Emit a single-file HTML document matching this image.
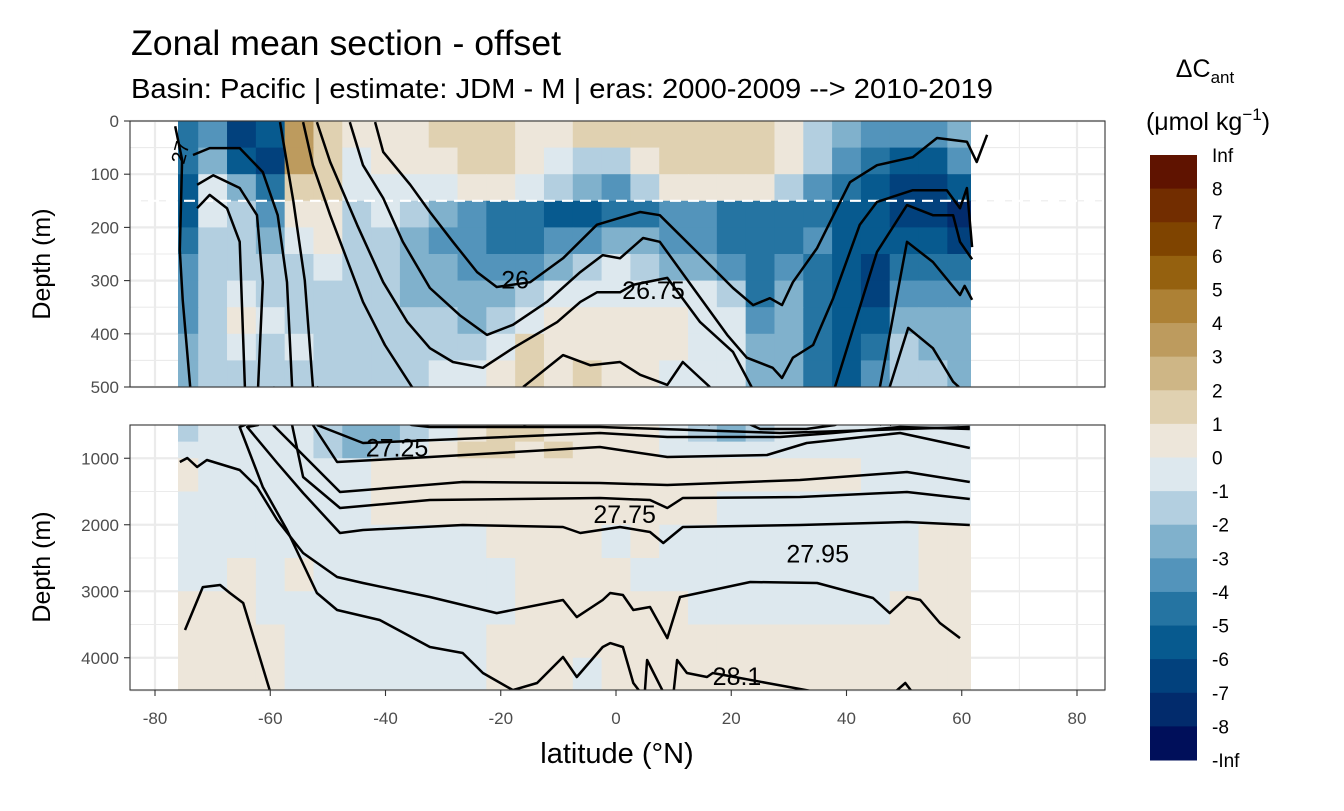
<!DOCTYPE html>
<html><head><meta charset="utf-8">
<style>
body{margin:0;background:#fff;}
svg text{font-family:"Liberation Sans",sans-serif;}
</style></head><body>
<svg id="chart" width="1344" height="806" viewBox="0 0 1344 806" xmlns="http://www.w3.org/2000/svg">
<defs>
<clipPath id="clipTop"><rect x="130" y="121" width="975" height="266"/></clipPath>
<clipPath id="clipBot"><rect x="130" y="425" width="975" height="265"/></clipPath>
<clipPath id="dataTop"><rect x="178" y="121" width="793" height="266"/></clipPath>
<clipPath id="dataBot"><rect x="178" y="425" width="793" height="265"/></clipPath>
</defs>
<text x="131" y="55" font-size="35" fill="#000" textLength="430" lengthAdjust="spacingAndGlyphs">Zonal mean section - offset</text>
<text x="131" y="98" font-size="28" fill="#000" textLength="862" lengthAdjust="spacingAndGlyphs">Basin: Pacific | estimate: JDM - M | eras: 2000-2009 --&gt; 2010-2019</text>
<g id="panels"></g>
<g id="legend"></g>
<text x="617" y="763" font-size="29" text-anchor="middle" fill="#000">latitude (°N)</text>
<text transform="translate(50,264) rotate(-90)" font-size="25" text-anchor="middle" fill="#000">Depth (m)</text>
<text transform="translate(50,567) rotate(-90)" font-size="25" text-anchor="middle" fill="#000">Depth (m)</text>
</svg>
<script>
// ---------- data ----------
const lats = [-75,-70,-65,-60,-55,-50,-45,-40,-35,-30,-25,-20,-15,-10,-5,0,5,10,15,20,25,30,35,40,45,50,55,60];
const depthEdges = [0,50,100,150,200,250,300,350,400,450,500,750,1000,1500,2000,2500,3000,3500,4000,4500];
const r0 = [-5,-4,-7,-6,3,1,0.5,0.5,0.5,1.5,1.5,1.5,0.5,0.5,1.5,1.5,1.5,1.5,1.5,1.5,1.5,0.5,-1.5,-3,-3.5,-4,-4,-2.5];
const r1 = [-5,-3,-6,-7,3.5,1.5,-0.5,0.5,0.5,0.5,1.5,1.5,0.5,-0.5,-1.5,-1.5,0.5,1.5,1.5,1.5,1.5,0.5,-2,-3.5,-5,-6,-6,-4];
const r2 = [-6,-1,-3,-5,1.5,1.5,-0.5,-0.5,-0.5,-0.5,0.5,0.5,-0.5,-1.5,-3,-4,-1.5,0.5,0.5,0.5,0.5,-1.5,-3.5,-5,-6,-7,-7,-6];
const r3 = [-6,-1,-2,-4,0.5,0.5,-1.5,-0.5,-1.5,-3,-4,-5,-5,-6,-6,-5,-5,-4,-4,-5,-5,-5,-5,-6,-6,-7,-7,-8];
const r4 = [-5,-1.5,-1.5,-3,-0.5,0.5,-1.5,-1.5,-2.5,-3.5,-4,-4.5,-5,-4,-3.5,-3,-3,-4,-4,-5,-5,-5,-4,-6,-6,-6,-6,-7];
const r5 = [-4,-1.5,-1.5,-2,-1.5,-0.5,-1.5,-2,-3,-3,-3.5,-4,-4,-2.5,-1.5,-1,-1.5,-2.5,-3,-4,-5,-4,-5,-6,-7,-5,-5,-5];
const r6 = [-4,-2,-0.5,-1.5,-1.5,-1.5,-1.5,-2,-2.5,-2.5,-3,-3,-2,-1,-0.5,-0.5,-0.5,-0.5,-1,-2,-5,-3,-5,-6,-7,-4,-4,-4];
const r7 = [-4,-1.5,0.5,-0.5,-1.5,-1.5,-1.5,-1.5,-2,-2,-2.5,-2,-1,0.5,0.5,0.5,0.5,0.5,-0.5,-1,-4,-3,-5,-6,-6,-3,-3,-3];
const r8 = [-3,-1.5,-0.5,-1.5,-0.5,-1.5,-1.5,-1.5,-1.5,-1.5,-2,-0.5,1.5,0.5,0.5,0.5,0.5,0.5,-0.5,-0.5,-3,-3,-5,-6,-5,-2,-2.5,-3];
const r9 = [-3,-1.5,-1.5,-1.5,-1.5,-1.5,-1.5,-1.5,-1.5,-0.5,-0.5,0.5,1.5,0.5,1.5,0.5,0.5,-0.5,-0.5,-0.5,-3,-3,-5,-6,-4,-1.5,-2,-3];
const r10 = [-1.5,-0.5,-0.5,-0.5,-0.5,-2,-3,-2.5,-1.5,-0.5,0.5,1.5,1.5,0.5,0.5,0.5,0.5,-0.5,-2,-3,-1.5,-0.5,-0.5,-0.5,-0.5,-0.5,-0.5,-0.5];
const r11 = [-0.5,-0.5,-0.5,-0.5,-0.5,-1.5,-3,-1.5,-0.5,0.5,1.5,1.5,0.5,1.5,0.5,0.5,0.5,-0.5,-0.5,-0.5,-0.5,-0.5,-0.5,-0.5,-0.5,-0.5,-0.5,-0.5];
const r12 = [0.5,-0.5,-0.5,-0.5,-0.5,-0.5,-0.5,0.5,0.5,0.5,0.5,0.5,0.5,0.5,0.5,0.5,0.5,0.5,0.5,0.5,0.5,0.5,0.5,0.5,-0.5,-0.5,-0.5,-0.5];
const r13 = [-0.5,-0.5,-0.5,-0.5,-0.5,-0.5,-0.5,0.5,0.5,0.5,0.5,0.5,0.5,0.5,0.5,0.5,0.5,0.5,0.5,-0.5,-0.5,-0.5,-0.5,-0.5,-0.5,-0.5,-0.5,-0.5];
const r14 = [-0.5,-0.5,-0.5,-0.5,-0.5,-0.5,-0.5,-0.5,-0.5,-0.5,-0.5,0.5,0.5,0.5,0.5,-0.5,0.5,-0.5,-0.5,-0.5,-0.5,-0.5,-0.5,-0.5,-0.5,-0.5,0.5,0.5];
const r15 = [-0.5,-0.5,0.5,-0.5,0.5,-0.5,-0.5,-0.5,-0.5,-0.5,-0.5,-0.5,0.5,0.5,0.5,0.5,-0.5,-0.5,-0.5,-0.5,-0.5,-0.5,-0.5,-0.5,-0.5,-0.5,0.5,0.5];
const r16 = [0.5,0.5,0.5,-0.5,-0.5,-0.5,-0.5,-0.5,-0.5,-0.5,-0.5,-0.5,0.5,0.5,0.5,0.5,0.5,0.5,-0.5,-0.5,-0.5,-0.5,-0.5,-0.5,-0.5,0.5,0.5,0.5];
const r17 = [0.5,0.5,0.5,0.5,-0.5,-0.5,-0.5,-0.5,-0.5,-0.5,-0.5,0.5,0.5,0.5,0.5,0.5,0.5,0.5,0.5,0.5,0.5,0.5,0.5,0.5,0.5,0.5,0.5,0.5];
const r18 = [0.5,0.5,0.5,0.5,-0.5,-0.5,-0.5,-0.5,-0.5,-0.5,-0.5,0.5,0.5,0.5,-0.5,0.5,0.5,0.5,0.5,0.5,0.5,0.5,0.5,0.5,0.5,0.5,0.5,0.5];
const gridRows = [r0,r1,r2,r3,r4,r5,r6,r7,r8,r9,r10,r11,r12,r13,r14,r15,r16,r17,r18];

const legendLabels = ["Inf","8","7","6","5","4","3","2","1","0","-1","-2","-3","-4","-5","-6","-7","-8","-Inf"];
const binColors = ["#5f1300","#722d00","#7f4400","#95610f","#ad8135","#bd9b5e","#ceb686","#e0d1b1","#ede6da","#dde8ee","#b3cfe0","#80b1cc","#5394bb","#2574a2","#075a8f","#02417d","#022b6c","#000f5a"];

const xTicks = [-80,-60,-40,-20,0,20,40,60,80];
const topTicks = [0,100,200,300,400,500];
const botTicks = [1000,2000,3000,4000];

// contour lines: lat array + depth array
const cHumpC_lat = [-72.7,-70.5,-67.5,-65.3,-64.4,-65.3,-61.3,-57.1,-51.9,-48.4,-41.0,-32.3,-26.6,-23.1,-17.9,-13.7,-9.2,-6.8,-2.3,-1.0,1.2,3.0,4.2];
const cHumpC_dep = [164,139,164,227,500,530,1432,2079,3027,3282,3433,3839,3929,4230,4486,4380,3989,4290,3839,3779,3839,4380,4516];
const cHumpB_lat = [-72.7,-69.9,-65.3,-62.3,-61.3,-62.1,-64.0,-58.8,-54.3,-47.9,-43.9,-26.6,-9.2,-6.2,0.7,5.9,8.2,11.6,31.9,50.5,61.4];
const cHumpB_dep = [120,102,126,177,303,500,530,1071,1523,2124,2079,2004,2034,2124,2034,2109,2275,2034,2004,1959,2004];
const cHumpA_lat = [-73.4,-70.5,-65.3,-61.3,-58.7,-57.1,-56.2,-54.3,-47.9,-32.3,-2.8,5.9,8.9,11.6,31.9,50.5,61.4];
const cHumpA_dep = [64,51,51,96,177,303,500,1282,1748,1628,1598,1628,1748,1598,1583,1508,1613];
const cV_lat = [-58.3,-56,-54,-52.6,-48.4,-32.3,-2.8,8.9,26.2,33.1,49.3,61.4];
const cV_dep = [2,150,300,500,1056,981,831,981,951,771,620,846];
const cS_lat = [-54.3,-52.6,-49.6,-43.9,-40.1,-35.4,-32.3,-2.8,28.5,61.4];
const cS_dep = [2,83,177,340,421,500,530,530,620,530];
const cH1_lat = [-76.5,-75.3,-75.7,-75.2,-73.9];
const cH1_dep = [10,73,243,336,500];
const cA_lat = [-41.8,-40.4,-35.7,-32.3,-28.3,-24.1,-20.7,-14.9,-9.2,-3.3,0.7,4.2,7.6,14.6,20.3,23.8,26.7,28.8,30.7,34.9,40.6,45.3,51.5,55.7,60.9,62.6,64.4];
const cA_dep = [2,58,120,171,227,284,312,303,258,195,182,171,177,252,314,346,333,346,303,239,115,83,68,32,39,77,26];
const cB_lat = [-46.2,-43.9,-40.4,-37.0,-32.3,-27.1,-22.4,-17.9,-12.0,-6.2,-2.3,0.7,4.7,7.6,13.4,19.3,22.7,27.2,28.8,30.7,34.2,37.7,42.3,45.3,51.5,57.4,59.7,60.9,61.8];
const cB_dep = [2,83,145,227,314,365,402,383,340,284,252,258,220,227,314,402,445,464,483,445,421,333,195,152,130,130,164,126,237];
const cC_lat = [-51.9,-49.6,-44.9,-40.4,-36.2,-32.3,-28.3,-23.1,-17.9,-10.2,-6.2,-3.3,0.7,2.9,8.9,14.6,20.3,25,33,38,45.3,50.5,55,58.5,59.7,61.8];
const cC_dep = [2,77,196,303,378,427,453,464,427,378,340,322,322,308,295,378,434,560,560,500,246,158,177,177,227,260];
const cD_lat = [-16.1,-9.2,-4.5,0.7,4.2,8.9,11.6,14.6,16.3];
const cD_dep = [500,440,459,453,477,496,453,483,500];
const cE_lat = [45.8,50.5,55,59.7,60.5,61.8];
const cE_dep = [500,227,265,327,310,336];
const cF_lat = [47.5,50.7,55,58.5,59.5];
const cF_dep = [500,389,427,490,500];
const cI_lat = [-75.7,-74.4,-72.7,-71.0,-65.3,-62.3,-58.8,-54.3,-48.4,-43.9,-32.3,-20.7,-9.2,-6.8,-2.3,-1.0,1.2,3.0,5.9,8.9,11.1,23.3,34.9,44.6,47.5,50.5,52.8,56.2,59.7];
const cI_dep = [1056,996,1132,1026,1177,1432,1929,2425,2786,2876,3087,3328,3132,3388,3132,3027,3057,3282,3237,3704,3087,2861,2876,3102,3328,3087,3132,3478,3704];
const cV5_lat = [-59.5,-47.9,-26.6,-2.8,8.9,31.9,50.5,61.4];
const cV5_dep = [500,1508,1357,1372,1402,1327,1207,1357];
const cV7_lat = [-51.9,-43.9,-2.8,8.9,28.5,37.7,49.3,61.4];
const cV7_dep = [500,771,620,680,680,620,530,560];
const cLL_lat = [-74.8,-71.7,-68.7,-67.0,-64.7,-60.0];
const cLL_dep = [3583,2937,2906,3027,3177,4516];
const cSp1_lat = [5.0,5.4,8.2];
const cSp1_dep = [4516,4034,4516];
const cSp2_lat = [10.0,10.6,12.3,15.8,16.8,26.2,34.9];
const cSp2_dep = [4516,4034,4230,4290,4230,4380,4516];
const cSp3_lat = [48.4,50.2,51.4];
const cSp3_dep = [4516,4380,4516];
const contours = [
 ["isopycnal-hump-c",cHumpC_lat,cHumpC_dep],["isopycnal-hump-b",cHumpB_lat,cHumpB_dep],
 ["isopycnal-hump-a",cHumpA_lat,cHumpA_dep],["isopycnal-v",cV_lat,cV_dep],["isopycnal-s",cS_lat,cS_dep],
 ["isopycnal-h1",cH1_lat,cH1_dep],["isopycnal-26",cA_lat,cA_dep],["isopycnal-26-25",cB_lat,cB_dep],
 ["isopycnal-26-75",cC_lat,cC_dep],["isopycnal-d",cD_lat,cD_dep],["isopycnal-e",cE_lat,cE_dep],
 ["isopycnal-f",cF_lat,cF_dep],["isopycnal-27-95-deep",cI_lat,cI_dep],["isopycnal-27-6",cV5_lat,cV5_dep],
 ["isopycnal-27-25",cV7_lat,cV7_dep],["isopycnal-lower-left",cLL_lat,cLL_dep],
 ["isopycnal-28-1-spike-a",cSp1_lat,cSp1_dep],["isopycnal-28-1",cSp2_lat,cSp2_dep],["isopycnal-28-1-spike-b",cSp3_lat,cSp3_dep]
];
const contourLabels = ["26","26.75","27.25","27.75","27.95","28.1"];
const labelLat = [-17.5,6.5,-38,1.5,35,21];
const labelDep = [300,320,850,1850,2450,4290];

// ---------- scales ----------
const NS="http://www.w3.org/2000/svg";
const xS = lat => 616 + lat*5.7625;
const yTop = d => 121 + d*0.532;
const yBot = d => 425 + (d-500)*0.0665;
const yAny = d => d<=500 ? yTop(d) : yBot(d);
function colorOf(v){let i=Math.floor(v)+9; i=Math.max(0,Math.min(17,i)); return binColors[17-i];}
function mk(tag,attrs,parent){const e=document.createElementNS(NS,tag);for(const k in attrs)e.setAttribute(k,attrs[k]);parent.appendChild(e);return e;}

const panels=document.getElementById('panels');
const gridCol="#ebebeb";
[[121,387,'top'],[425,690,'bottom']].forEach(([y0,y1,nm])=>{
  const g=mk('g',{},panels);
  
  
  mk('rect',{x:130,y:y0,width:975,height:y1-y0,fill:'#fff'},g);
  for(let lat=-90;lat<=90;lat+=10){const x=xS(lat); if(x<130||x>1105)continue; mk('line',{x1:x,x2:x,y1:y0,y2:y1,stroke:gridCol,'stroke-width':lat%20===0?2.2:1.1},g);}
  if(nm==='top'){for(let d=0;d<=500;d+=50){const y=yTop(d);mk('line',{x1:130,x2:1105,y1:y,y2:y,stroke:gridCol,'stroke-width':d%100===0?2.2:1.1},g);}}
  else{for(let d=1000;d<=4500;d+=500){const y=yBot(d);mk('line',{x1:130,x2:1105,y1:y,y2:y,stroke:gridCol,'stroke-width':d%1000===0?2.2:1.1},g);}}
});
['top','bottom'].forEach(nm=>{
  const g=mk('g',{'clip-path':nm==='top'?'url(#dataTop)':'url(#dataBot)'},panels);
  
  
  gridRows.forEach((row,ri)=>{
    const d0=depthEdges[ri], d1=depthEdges[ri+1];
    if(nm==='top' && d0>=500) return;
    if(nm==='bottom' && d1<=500) return;
    const y0=yAny(d0), y1=yAny(d1);
    row.forEach((v,ci)=>{
      const x0=xS(lats[ci]-2.5), x1=xS(lats[ci]+2.5);
      const r=mk('rect',{x:x0,y:y0,width:x1-x0+0.6,height:y1-y0+0.6,fill:colorOf(v)},g);
      
      
    });
  });
});
const dl=mk('line',{x1:130,x2:1105,y1:yTop(150),y2:yTop(150),stroke:'#fff','stroke-width':2.2,'stroke-dasharray':'11 7','clip-path':'url(#clipTop)'},panels);


['top','bottom'].forEach(nm=>{
  const g=mk('g',{'clip-path':nm==='top'?'url(#clipTop)':'url(#clipBot)',fill:'none',stroke:'#000','stroke-width':2.5,'stroke-linejoin':'round'},panels);
  contours.forEach(([name,la,de])=>{
    let dstr='';
    la.forEach((l,i)=>{const y = nm==='top' ? (de[i]<=500?yTop(de[i]):400+(de[i]-500)*0.05) : (de[i]>=500?yBot(de[i]):420-(500-de[i])*0.05); dstr+=(i?'L':'M')+xS(l).toFixed(1)+','+y.toFixed(1);});
    const p=mk('path',{d:dstr},g);
    
    
  });
});
contourLabels.forEach((t,i)=>{
  const e=mk('text',{x:xS(labelLat[i]),y:yAny(labelDep[i])+8,'font-size':25,'text-anchor':'middle',fill:'#000'},panels);
  e.textContent=t;
  
  
});
const l27=mk('text',{x:0,y:0,'font-size':20,fill:'#000',transform:'translate(184,165) rotate(-75)'},panels);
l27.textContent='27';


[[121,387],[425,690]].forEach(([y0,y1])=>{
  const b=mk('rect',{x:130,y:y0,width:975,height:y1-y0,fill:'none',stroke:'#333','stroke-width':1.1},panels);
  
  
});
topTicks.forEach(d=>{const y=yTop(d);mk('line',{x1:124,x2:130,y1:y,y2:y,stroke:'#333','stroke-width':1.1},panels);
  const t=mk('text',{x:119,y:y+6,'font-size':17,'text-anchor':'end',fill:'#4d4d4d'},panels);t.textContent=d;
  
  });
botTicks.forEach(d=>{const y=yBot(d);mk('line',{x1:124,x2:130,y1:y,y2:y,stroke:'#333','stroke-width':1.1},panels);
  const t=mk('text',{x:119,y:y+6,'font-size':17,'text-anchor':'end',fill:'#4d4d4d'},panels);t.textContent=d;
  
  });
xTicks.forEach(l=>{const x=xS(l);mk('line',{x1:x,x2:x,y1:690,y2:696,stroke:'#333','stroke-width':1.1},panels);
  const t=mk('text',{x:x,y:724,'font-size':17,'text-anchor':'middle',fill:'#4d4d4d'},panels);t.textContent=l;
  
  });
const lg=document.getElementById('legend');
const lt=mk('text',{x:1205,y:77,'font-size':25,'text-anchor':'middle',fill:'#000'},lg);
lt.innerHTML='ΔC<tspan font-size="17" dy="6">ant</tspan>';


const lu=mk('text',{x:1208,y:130,'font-size':25,'text-anchor':'middle',fill:'#000'},lg);
lu.innerHTML='(μmol kg<tspan font-size="17" dy="-10">−1</tspan><tspan dy="10">)</tspan>';


const top0=155, step=(760-155)/18;
binColors.forEach((c,i)=>{const r=mk('rect',{x:1150,y:top0+i*step,width:47,height:step+0.5,fill:c},lg);
  
  });
legendLabels.forEach((t,i)=>{const e=mk('text',{x:1212,y:top0+i*step+7,'font-size':19,fill:'#000'},lg);e.textContent=t;
  
  });
</script>
</body></html>
